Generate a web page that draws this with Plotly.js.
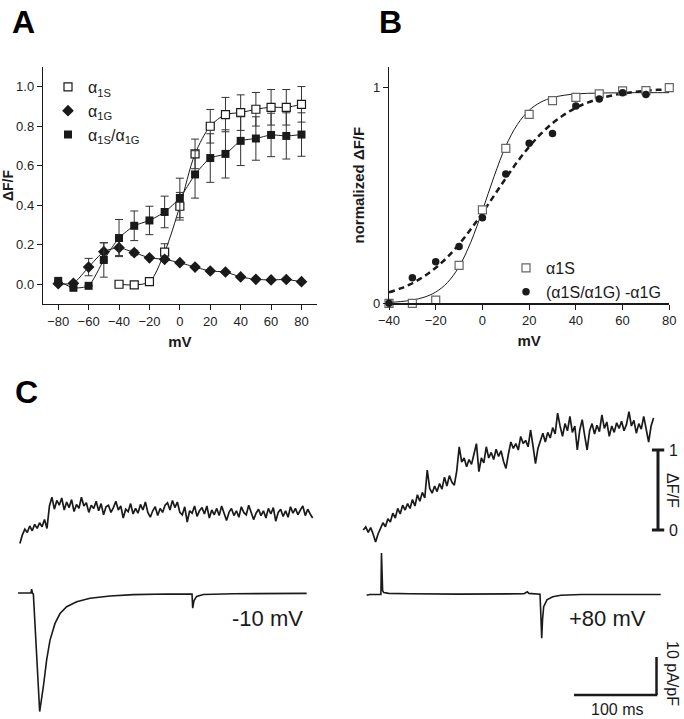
<!DOCTYPE html>
<html><head><meta charset="utf-8">
<script src="https://cdn.plot.ly/plotly-3.0.1.min.js"></script>
<style>html,body{margin:0;padding:0;background:#fff}</style>
</head><body>
<div id="chart" style="width:684px;height:719px"></div>
<script>
// ---------- Panel A data ----------
const voltsA = [-80,-70,-60,-50,-40,-30,-20,-10,0,10,20,30,40,50,60,70,80];
const voltsA1S = [-40,-30,-20,-10,0,10,20,30,40,50,60,70,80];
const a1S_y   = [0.0,-0.003,0.013,0.163,0.395,0.66,0.80,0.859,0.869,0.886,0.896,0.896,0.911];
const a1S_err = [0,0,0,0.042,0.07,0.075,0.085,0.087,0.09,0.085,0.09,0.09,0.09];
const a1G_y   = [0.003,0.005,0.087,0.165,0.185,0.16,0.134,0.126,0.109,0.087,0.067,0.062,0.037,0.025,0.022,0.024,0.013];
const a1G_err = [0,0,0.044,0.045,0.04,0.012,0,0,0,0,0,0,0,0,0,0,0];
const mix_y   = [0.017,-0.018,-0.008,0.123,0.234,0.296,0.323,0.366,0.437,0.556,0.639,0.66,0.726,0.738,0.756,0.751,0.758];
const mix_err = [0,0,0,0.087,0.094,0.075,0.072,0.08,0.1,0.12,0.123,0.122,0.125,0.11,0.11,0.117,0.11];
const ticksA_x = [-80,-60,-40,-20,0,20,40,60,80];
const ticksA_y = [0,0.2,0.4,0.6,0.8,1.0];

// ---------- Panel B data ----------
const voltsB = [-40,-30,-20,-10,0,10,20,30,40,50,60,70,80];
const b1S_y  = [0,0,0.015,0.176,0.433,0.719,0.876,0.94,0.955,0.971,0.985,0.986,1.0];
const voltsBdiff = [-40,-30,-20,-10,0,10,20,30,40,50,60,70];
const bDiff_y = [0,0.119,0.193,0.263,0.397,0.6,0.742,0.787,0.915,0.947,0.977,0.969];
const fitV = [-40,-35,-30,-25,-20,-15,-10,-5,0,5,10,15,20,25,30,35,40,45,50,55,60,65,70,75,80];
const fit1S = [0.004,0.008,0.015,0.028,0.052,0.096,0.170,0.283,0.430,0.589,0.729,0.830,0.895,0.933,0.954,0.965,0.971,0.974,0.975,0.976,0.976,0.977,0.977,0.977,0.977];
const fitDiff = [0.051,0.069,0.093,0.125,0.165,0.214,0.274,0.343,0.419,0.500,0.580,0.657,0.726,0.786,0.835,0.875,0.907,0.931,0.949,0.963,0.973,0.980,0.986,0.990,0.992];
const ticksB_x = [-40,-20,0,20,40,60,80];
const ticksB_y = [0,1];

// ---------- Panel C data ----------
const fluoL_t0 = 6, fluoL_dt = 3;
const fluoL = [-0.17,-0.06,0.01,-0.03,0.05,-0.01,0.07,0.02,0.09,0.04,0.13,0.02,
 0.30,0.41,0.26,0.37,0.31,0.40,0.25,0.35,0.28,0.38,0.23,0.32,
 0.27,0.41,0.30,0.34,0.22,0.31,0.27,0.36,0.24,0.33,0.19,0.29,
 0.31,0.22,0.28,0.36,0.25,0.30,0.15,0.26,0.23,0.33,0.20,0.27,
 0.21,0.32,0.25,0.35,0.22,0.16,0.24,0.29,0.18,0.27,0.22,0.31,
 0.34,0.25,0.37,0.28,0.35,0.22,0.19,0.29,0.10,0.24,0.21,0.30,
 0.17,0.24,0.28,0.20,0.30,0.15,0.25,0.19,0.27,0.18,0.30,0.22,
 0.12,0.22,0.27,0.18,0.24,0.16,0.29,0.22,0.19,0.31,0.23,0.13,
 0.21,0.26,0.18,0.24,0.15,0.27,0.20,0.28,0.11,0.22,0.26,0.17,
 0.24,0.16,0.29,0.21,0.27,0.19,0.25,0.30,0.18,0.26,0.20,0.15];
const fluoR_t0 = 4, fluoR_dt = 3;
const fluoR = [0.00,0.04,-0.03,0.03,-0.05,-0.15,-0.05,0.02,0.09,0.04,0.14,0.10,
 0.21,0.15,0.27,0.20,0.31,0.25,0.33,0.27,0.38,0.30,0.44,0.36,
 0.47,0.40,0.75,0.52,0.46,0.55,0.48,0.58,0.51,0.66,0.55,0.68,
 0.60,0.56,0.74,1.04,0.85,0.90,0.79,0.88,0.82,0.95,1.08,0.73,
 0.90,0.84,1.04,0.90,0.97,0.88,1.01,0.92,0.99,0.86,0.77,0.95,
 1.10,1.02,1.08,1.00,1.17,1.08,1.12,1.04,1.25,1.05,0.83,1.02,
 1.12,1.21,1.10,1.22,1.15,1.28,1.20,1.46,1.30,1.17,1.33,1.24,
 1.42,1.22,1.30,1.00,1.25,1.38,1.18,1.00,1.24,1.33,1.20,1.31,
 1.23,1.44,1.27,1.35,1.17,1.30,1.22,1.34,1.27,1.36,1.24,1.32,
 1.48,1.30,1.37,1.21,1.33,1.26,1.42,1.28,1.10,1.30,1.40];
const curL_t = [3.7,19.5,20.3,21.2,22.4,26.3,30.1,34.6,38.6,42.7,48.8,54.9,63,75.2,91.5,115.9,144.3,185,213.4,215.9,216.7,218.3,221.5,229.7,266,355.7];
const curL_v = [0,0,1.0,0,-0.3,-15,-31.2,-24.6,-17.6,-12.4,-8.0,-5.4,-3.6,-2.3,-1.4,-0.8,-0.44,-0.26,-0.15,-0.3,-4.0,-2.0,-0.9,-0.4,-0.2,-0.1];
const curR_t = [8.1,12,20,25.5,26.2,26.9,27.6,29,35,60,120,200,204,206,210,219.5,220.6,221.6,222.6,224,228,235,245,270,366.7];
const curR_v = [-0.6,-0.4,-0.4,-0.4,10.5,3.0,0.6,0.1,-0.1,-0.2,-0.3,-0.2,0.3,-0.1,-0.2,-0.3,-6,-11.9,-7,-3.6,-1.8,-1.0,-0.6,-0.4,-0.4];

const tL = fluoL.map((_, i) => fluoL_t0 + i * fluoL_dt);
const tR = fluoR.map((_, i) => fluoR_t0 + i * fluoR_dt);

const FONT = 'Liberation Sans, Arial, Helvetica, sans-serif';
const INK = '#1a1a1a';

const traces = [
  // Panel A lines
  {x: voltsA1S, y: a1S_y, mode:'lines', line:{color:INK, width:1, shape:'spline', smoothing:0.9}, showlegend:false, hoverinfo:'skip', xaxis:'x', yaxis:'y'},
  {x: voltsA, y: a1G_y, mode:'lines', line:{color:INK, width:1, shape:'spline', smoothing:0.6}, showlegend:false, hoverinfo:'skip', xaxis:'x', yaxis:'y'},
  {x: voltsA, y: mix_y, mode:'lines', line:{color:INK, width:1, shape:'spline', smoothing:0.6}, showlegend:false, hoverinfo:'skip', xaxis:'x', yaxis:'y'},
  // Panel A markers
  {x: voltsA1S, y: a1S_y, name:'α<sub>1S</sub>', mode:'markers', legend:'legend',
   marker:{symbol:'square', size:8, color:'#ffffff', line:{color:INK, width:1.2}},
   error_y:{type:'data', array:a1S_err, color:'#333', thickness:1, width:4}, xaxis:'x', yaxis:'y', cliponaxis:false},
  {x: voltsA, y: a1G_y, name:'α<sub>1G</sub>', mode:'markers', legend:'legend',
   marker:{symbol:'diamond', size:9, color:INK},
   error_y:{type:'data', array:a1G_err, color:'#333', thickness:1, width:4}, xaxis:'x', yaxis:'y', cliponaxis:false},
  {x: voltsA, y: mix_y, name:'α<sub>1S</sub>/α<sub>1G</sub>', mode:'markers', legend:'legend',
   marker:{symbol:'square', size:8, color:INK},
   error_y:{type:'data', array:mix_err, color:'#333', thickness:1, width:4}, xaxis:'x', yaxis:'y', cliponaxis:false},
  // Panel B fits
  {x: fitV, y: fit1S, mode:'lines', line:{color:INK, width:1, shape:'spline'}, showlegend:false, hoverinfo:'skip', xaxis:'x2', yaxis:'y2'},
  {x: fitV, y: fitDiff, mode:'lines', line:{color:INK, width:2.5, dash:'6px,4px', shape:'spline'}, showlegend:false, hoverinfo:'skip', xaxis:'x2', yaxis:'y2'},
  // Panel B markers
  {x: voltsB, y: b1S_y, name:'α1S', mode:'markers', legend:'legend2',
   marker:{symbol:'square', size:8, color:'#ffffff', line:{color:'#666', width:1.2}}, xaxis:'x2', yaxis:'y2', cliponaxis:false},
  {x: voltsBdiff, y: bDiff_y, name:'(α1S/α1G) -α1G', mode:'markers', legend:'legend2',
   marker:{symbol:'circle', size:7.5, color:INK}, xaxis:'x2', yaxis:'y2', cliponaxis:false},
  // Panel C traces
  {x: tL, y: fluoL, mode:'lines', line:{color:INK, width:1.7}, showlegend:false, hoverinfo:'skip', xaxis:'x3', yaxis:'y3'},
  {x: tR, y: fluoR, mode:'lines', line:{color:INK, width:1.7}, showlegend:false, hoverinfo:'skip', xaxis:'x4', yaxis:'y3'},
  {x: curL_t, y: curL_v, mode:'lines', line:{color:INK, width:1.6}, showlegend:false, hoverinfo:'skip', xaxis:'x3', yaxis:'y4'},
  {x: curR_t, y: curR_v, mode:'lines', line:{color:INK, width:1.6}, showlegend:false, hoverinfo:'skip', xaxis:'x4', yaxis:'y4'}
];

const axBase = {showgrid:false, zeroline:false, showline:true, linecolor:INK, linewidth:1.2,
  ticks:'outside', ticklen:5, tickwidth:1, tickcolor:INK, mirror:false,
  tickfont:{family:FONT, size:13, color:'#222'}, automargin:false, fixedrange:true};
const hidden = {visible:false, fixedrange:true, showgrid:false, zeroline:false};

const layout = {
  width:684, height:719, autosize:false,
  margin:{l:0, r:0, t:0, b:0},
  paper_bgcolor:'#ffffff', plot_bgcolor:'rgba(0,0,0,0)',
  font:{family:FONT, color:INK},
  xaxis: Object.assign({}, axBase, {domain:[43/684, 316.7/684], range:[-90,90], anchor:'y',
    tickmode:'array', tickvals:ticksA_x,
    title:{text:'<b>mV</b>', font:{family:FONT, size:15}, standoff:8}}),
  yaxis: Object.assign({}, axBase, {domain:[1-304/719, 1-67/719], range:[-0.1,1.1], anchor:'x',
    tickmode:'array', tickvals:ticksA_y, tickformat:'.1f',
    title:{text:'<b>ΔF/F</b>', font:{family:FONT, size:14}, standoff:4}}),
  xaxis2: Object.assign({}, axBase, {domain:[389/684, 669.3/684], range:[-40,80], anchor:'y2',
    tickmode:'array', tickvals:ticksB_x,
    title:{text:'<b>mV</b>', font:{family:FONT, size:15}, standoff:8}}),
  yaxis2: Object.assign({}, axBase, {domain:[1-303.3/719, 1-67/719], range:[0,1.096], anchor:'x2',
    tickmode:'array', tickvals:ticksB_y,
    title:{text:'<b>normalized ΔF/F</b>', font:{family:FONT, size:15}, standoff:4}}),
  xaxis3: Object.assign({}, hidden, {domain:[15/684, 315/684], range:[0, 300/0.82], anchor:'y3'}),
  xaxis4: Object.assign({}, hidden, {domain:[360/684, 665/684], range:[0, 305/0.82], anchor:'y3'}),
  yaxis3: Object.assign({}, hidden, {domain:[1-560/719, 1-380/719], range:[(530-560)/80, (530-380)/80], anchor:'x3'}),
  yaxis4: Object.assign({}, hidden, {domain:[1-715/719, 1-545/719], range:[-(715-593)/3.8, (593-545)/3.8], anchor:'x3'}),
  legend: {x:48/684, y:1-70/719, xanchor:'left', yanchor:'top', bgcolor:'rgba(0,0,0,0)',
    font:{family:FONT, size:16, color:INK}, tracegroupgap:0, itemclick:false},
  legend2: {x:506/684, y:1-251/719, xanchor:'left', yanchor:'top', bgcolor:'rgba(0,0,0,0)',
    font:{family:FONT, size:16, color:INK}, tracegroupgap:0, itemclick:false},
  shapes: [
    // dF/F scale bar
    {type:'line', xref:'x4', yref:'y3', x0:363.4, x1:363.4, y0:0, y1:1, line:{color:INK, width:3}},
    {type:'line', xref:'x4', yref:'y3', x0:356, x1:371, y0:1, y1:1, line:{color:INK, width:3}},
    {type:'line', xref:'x4', yref:'y3', x0:356, x1:371, y0:0, y1:0, line:{color:INK, width:3}},
    // current / time scale bar
    {type:'line', xref:'x4', yref:'y4', x0:361.6, x1:361.6, y0:-16.84, y1:-26.84, line:{color:INK, width:2.5}},
    {type:'line', xref:'x4', yref:'y4', x0:261, x1:362.6, y0:-26.84, y1:-26.84, line:{color:INK, width:2.5}}
  ],
  annotations: [
    {text:'<b>A</b>', xref:'paper', yref:'paper', x:23/684, y:1-22/719, showarrow:false, xanchor:'center', yanchor:'middle', font:{family:FONT, size:32, color:'#000'}},
    {text:'<b>B</b>', xref:'paper', yref:'paper', x:390/684, y:1-22/719, showarrow:false, xanchor:'center', yanchor:'middle', font:{family:FONT, size:32, color:'#000'}},
    {text:'<b>C</b>', xref:'paper', yref:'paper', x:26/684, y:1-392/719, showarrow:false, xanchor:'center', yanchor:'middle', font:{family:FONT, size:32, color:'#000'}},
    {text:'-10 mV', xref:'paper', yref:'paper', x:267/684, y:1-618/719, showarrow:false, xanchor:'center', yanchor:'middle', font:{family:FONT, size:22, color:INK}},
    {text:'+80 mV', xref:'paper', yref:'paper', x:607/684, y:1-618/719, showarrow:false, xanchor:'center', yanchor:'middle', font:{family:FONT, size:22, color:INK}},
    {text:'1', xref:'paper', yref:'y3', x:667/684, y:1, showarrow:false, xanchor:'left', yanchor:'middle', font:{family:FONT, size:16, color:INK}},
    {text:'0', xref:'paper', yref:'y3', x:667/684, y:0, showarrow:false, xanchor:'left', yanchor:'middle', font:{family:FONT, size:16, color:INK}},
    {text:'ΔF/F', xref:'paper', yref:'y3', x:673/684, y:0.5, showarrow:false, xanchor:'center', yanchor:'middle', textangle:90, font:{family:FONT, size:16, color:INK}},
    {text:'10 pA/pF', xref:'paper', yref:'paper', x:673/684, y:1-673/719, showarrow:false, xanchor:'center', yanchor:'middle', textangle:90, font:{family:FONT, size:16, color:INK}},
    {text:'100 ms', xref:'paper', yref:'paper', x:617/684, y:1-709/719, showarrow:false, xanchor:'center', yanchor:'middle', font:{family:FONT, size:16, color:INK}}
  ]
};

Plotly.newPlot('chart', traces, layout, {staticPlot:true, displayModeBar:false});
</script>
</body></html>
